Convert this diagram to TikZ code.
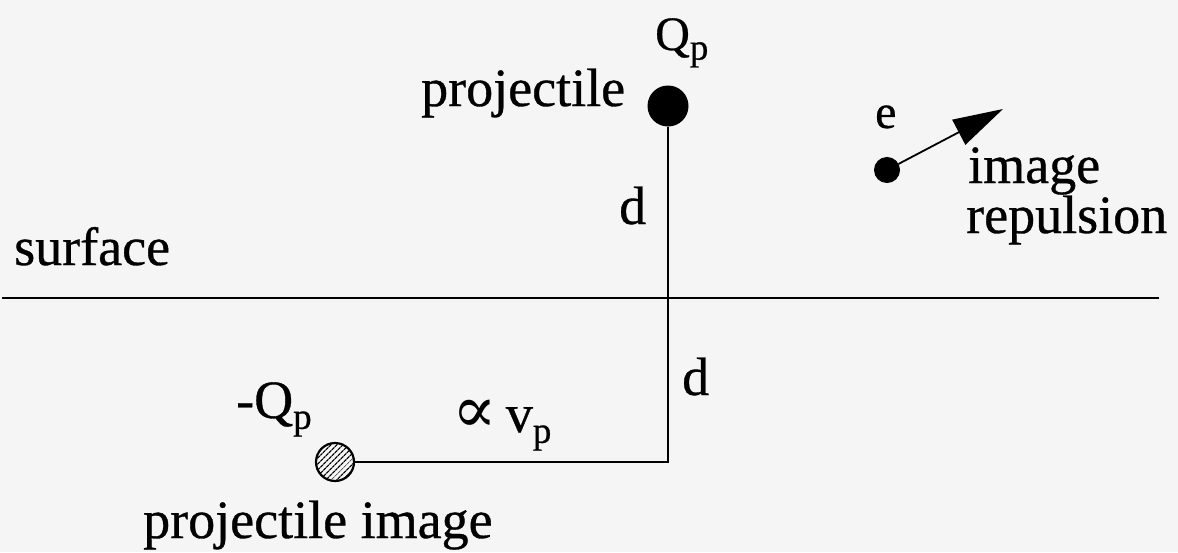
\documentclass[tikz,border=0pt]{standalone}
\usepackage{fontspec}
\setmainfont[FakeBold=0.6]{Liberation Serif}
\newfontfamily\symfont{DejaVu Serif}
\usetikzlibrary{arrows.meta,patterns.meta}
\tikzset{
  ball/.style={circle, draw=black, fill=black, line width=1pt, inner sep=0pt},
  mirror/.style={circle, draw=black, line width=2.2pt, inner sep=0pt,
    pattern={Lines[angle=45,distance=4pt,line width=1.3pt]}},
  track/.style={draw=black, line width=2.2pt},
  push/.style={draw=black, line width=1.8pt, -{Triangle[length=50pt,width=28pt]}},
  lbl/.style={anchor=base west, inner sep=0pt, font=\fontsize{54}{58}\selectfont},
  small/.style={lbl, font=\fontsize{48}{52}\selectfont}
}
\newcommand\subp{\raisebox{-0.2em}{\fontsize{37}{40}\selectfont p}}

\begin{document}
\begin{tikzpicture}[x=1pt,y=-1pt]
  \fill[black!4] (0,0) rectangle (1178,552);
  \useasboundingbox (0,0) rectangle (1178,552);

  % Surface plane.
  \coordinate (surfL) at (2,298);
  \coordinate (surfR) at (1159,298);
  \draw[track] (surfL) -- (surfR);

  % Projectile, its image and the path between them.
  \node[ball, minimum size=40pt] (proj) at (668,106) {};
  \node[mirror, minimum size=38pt] (img) at (335,462) {};
  \coordinate (corner) at (668,462);
  \draw[track] (proj) -- (corner) -- (img);

  % Electron pushed away by its image.
  \node[ball, minimum size=25pt] (elec) at (887,170) {};
  \coordinate (kick) at (1003,109);
  \draw[push] (elec) -- (kick);

  % Labels.
  \node[small] (qtop) at (655,50) {Q\subp};
  \node[lbl] (projtxt) at (421,106) {projectile};
  \node[small] (etxt) at (875,128) {e};
  \node[lbl] (imgtxt) at (968,183) {image};
  \node[lbl] (reptxt) at (966,233) {repulsion};
  \node[lbl] (surftxt) at (14,265) {surface};
  \node[lbl] (dup) at (619,224) {d};
  \node[lbl] (ddown) at (682,395) {d};
  \node[lbl] (vtxt) at (452,432) {{\symfont\fontsize{66}{70}\selectfont ∝}\,v\subp};
  \node[lbl] (qimg) at (236,418) {-Q\subp};
  \node[lbl] (imgname) at (143,538) {projectile image};
\end{tikzpicture}
\end{document}
